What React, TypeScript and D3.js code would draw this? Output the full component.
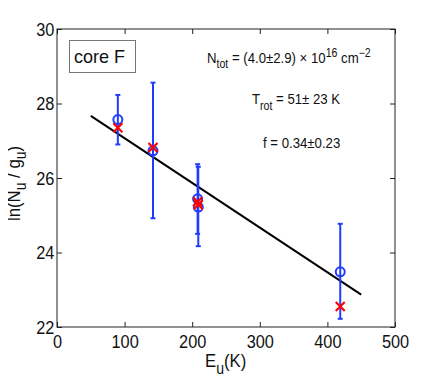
import * as d3 from 'd3';
import React, { useEffect, useRef } from 'react';

// upper level energies (K)
const energies = [90, 142, 208, 209, 419];
// observed ln(Nu/gu) with error bars
const observed = [27.57, 26.73, 25.44, 25.22, 23.48];
const errLow = [26.9, 24.92, 24.5, 24.17, 22.22];
const errHigh = [28.23, 28.56, 26.37, 26.3, 24.77];
// model values (crosses)
const model = [27.35, 26.82, 25.36, 25.28, 22.55];
// fitted line
const fitE = [50, 450];
const fitY = [27.67, 22.87];

const xTicks = [0, 100, 200, 300, 400, 500];
const yTicks = [22, 24, 26, 28, 30];

export default function App() {
  const ref = useRef<SVGSVGElement>(null);
  const width = 436, height = 382;
  const margin = { top: 29, right: 41, bottom: 55, left: 57 };

  useEffect(() => {
    drawChart();
  }, []);

  function drawChart() {
    const svg = d3.select(ref.current);
    svg.selectAll('*').remove();

    const x = d3.scaleLinear().domain([0, 500]).range([margin.left, width - margin.right]);
    const y = d3.scaleLinear().domain([22, 30]).range([height - margin.bottom, margin.top]);
    const font = 'Liberation Sans, Arial, sans-serif';
    const blue = '#1f3dff';

    // narrow text like the original renderer
    const label = (px: number, py: number, size: number, sx: number, rot = 0) =>
      svg.append('text')
        .attr('transform', `translate(${px},${py}) rotate(${rot}) scale(${sx},1)`)
        .attr('font-family', font).attr('font-size', size).attr('fill', '#111');

    svg.append('rect').attr('width', width).attr('height', height).attr('fill', 'white');

    // axes with inside ticks on all four sides
    const tick = 5;
    const ax = (g: any) => g.selectAll('.domain').remove();
    svg.append('g').attr('transform', `translate(0,${y(22)})`)
      .call(d3.axisBottom(x).tickValues(xTicks).tickSize(-tick).tickPadding(8).tickFormat(d3.format('d')))
      .call(ax);
    svg.append('g').attr('transform', `translate(0,${y(30)})`)
      .call(d3.axisTop(x).tickValues(xTicks).tickSize(-tick).tickFormat(() => ''))
      .call(ax);
    svg.append('g').attr('transform', `translate(${x(0)},0)`)
      .call(d3.axisLeft(y).tickValues(yTicks).tickSize(-tick).tickPadding(3).tickFormat(d3.format('d')))
      .call(ax);
    svg.append('g').attr('transform', `translate(${x(500)},0)`)
      .call(d3.axisRight(y).tickValues(yTicks).tickSize(-tick).tickFormat(() => ''))
      .call(ax);
    svg.selectAll('.tick line').attr('stroke', '#222');
    svg.selectAll('.tick text').attr('font-family', font).attr('font-size', 19).attr('fill', '#111')
      .attr('transform', 'scale(0.86,1)');

    svg.append('rect')
      .attr('x', x(0)).attr('y', y(30))
      .attr('width', x(500) - x(0)).attr('height', y(22) - y(30))
      .attr('fill', 'none').attr('stroke', '#222').attr('stroke-width', 1);

    // fit line
    svg.append('line')
      .attr('x1', x(fitE[0])).attr('y1', y(fitY[0]))
      .attr('x2', x(fitE[1])).attr('y2', y(fitY[1]))
      .attr('stroke', 'black').attr('stroke-width', 2);

    // error bars
    const eb = svg.append('g').attr('stroke', blue).attr('stroke-width', 2);
    energies.forEach((e, i) => {
      eb.append('line').attr('x1', x(e)).attr('x2', x(e)).attr('y1', y(errLow[i])).attr('y2', y(errHigh[i]));
      [errLow[i], errHigh[i]].forEach(v => {
        eb.append('line').attr('x1', x(e) - 2.5).attr('x2', x(e) + 2.5).attr('y1', y(v)).attr('y2', y(v));
      });
    });

    // observed circles
    svg.append('g').selectAll('circle').data(energies).join('circle')
      .attr('cx', d => x(d)).attr('cy', (d, i) => y(observed[i])).attr('r', 4.5)
      .attr('fill', 'none').attr('stroke', blue).attr('stroke-width', 2);

    // model crosses
    const s = 4.5;
    svg.append('g').selectAll('path').data(energies).join('path')
      .attr('d', (d, i) => {
        const cx = x(d), cy = y(model[i]);
        return `M${cx - s},${cy - s}L${cx + s},${cy + s}M${cx - s},${cy + s}L${cx + s},${cy - s}`;
      })
      .attr('stroke', 'red').attr('stroke-width', 2.2).attr('fill', 'none');

    // legend box
    svg.append('rect').attr('x', 69.5).attr('y', 40.5).attr('width', 66).attr('height', 32)
      .attr('fill', 'white').attr('stroke', '#777').attr('stroke-width', 1);
    label(74, 63, 19, 0.95).text('core F');

    // annotations
    const n = label(207, 63, 15, 0.88);
    n.append('tspan').text('N');
    n.append('tspan').attr('dy', 5).attr('font-size', 12).text('tot');
    n.append('tspan').attr('dy', -5).text(' = (4.0\u00b12.9) \u00d7 10');
    n.append('tspan').attr('dy', -6).attr('font-size', 12).text('16');
    n.append('tspan').attr('dy', 6).text(' cm');
    n.append('tspan').attr('dy', -6).attr('font-size', 12).text('\u22122');

    const t = label(252, 104, 15, 0.88);
    t.append('tspan').text('T');
    t.append('tspan').attr('dy', 6).attr('font-size', 12).text('rot');
    t.append('tspan').attr('dy', -6).text(' = 51\u00b1 23 K');

    label(263, 148, 15, 0.88).text('f = 0.34\u00b10.23');

    // axis labels
    const xl = label(205, 367, 19, 0.88);
    xl.append('tspan').text('E');
    xl.append('tspan').attr('dy', 7).attr('font-size', 16).text('u');
    xl.append('tspan').attr('dy', -7).text('(K)');

    const yl = label(20, 221, 19, 0.88, -90);
    yl.append('tspan').text('ln(N');
    yl.append('tspan').attr('dy', 6).attr('font-size', 16).text('u');
    yl.append('tspan').attr('dy', -6).text(' / g');
    yl.append('tspan').attr('dy', 6).attr('font-size', 16).text('u');
    yl.append('tspan').attr('dy', -6).text(')');
  }

  return <svg ref={ref} width={width} height={height} style={{ display: 'block', margin: '-8px' }} />;
}
